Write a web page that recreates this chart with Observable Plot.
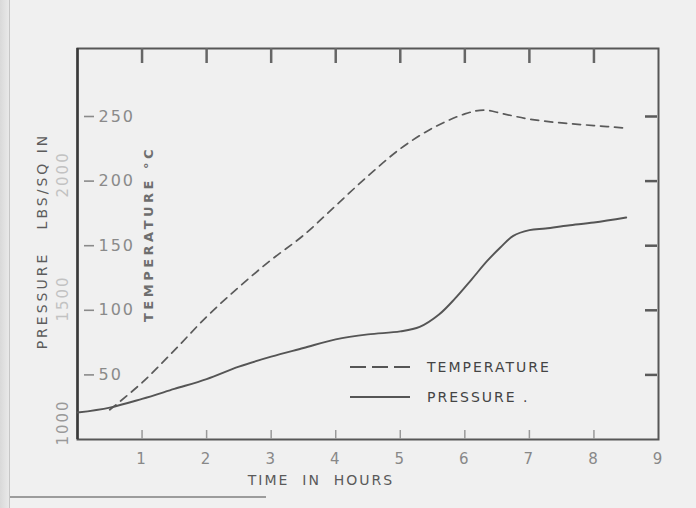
<!DOCTYPE html>
<html><head><meta charset="utf-8">
<script src="https://cdn.jsdelivr.net/npm/d3@7"></script>
<script src="https://cdn.jsdelivr.net/npm/@observablehq/plot@0.6"></script>
<style>
html,body{margin:0;padding:0;background:#efefef;}
#wrap{position:relative;width:696px;height:508px;overflow:hidden;background:#f0f0f0;font-family:"DejaVu Sans",sans-serif;}
#edge{position:absolute;left:0;top:0;width:9px;height:508px;background:linear-gradient(to right,#d9d9d9,#e9e9e9);border-right:1px solid #c6c6c6;}
#rule{position:absolute;left:10px;top:496px;width:256px;height:0;border-top:2px solid #9c9c9c;}
#chart{position:absolute;left:0;top:0;}
#legend{position:absolute;left:345px;top:352px;}
</style></head>
<body>
<div id="wrap"><div id="edge"></div><div id="rule"></div><div id="chart"></div><svg id="legend" width="230" height="60"></svg></div>
<script>
// ---- data ----
const tempHours = [0.5, 1, 1.5, 2, 2.5, 3, 3.5, 4, 4.5, 5, 5.5, 6, 6.3, 6.6, 7, 7.5, 8, 8.5];
const tempC     = [23, 44, 69, 95, 118, 139, 158, 181, 204, 225, 241, 252, 255, 252, 248, 245, 243, 241];
const presHours = [0, 0.5, 1, 1.5, 2, 2.5, 3, 3.5, 4, 4.5, 5, 5.3, 5.6, 5.85, 6.1, 6.35, 6.55, 6.75, 7, 7.25, 7.6, 8, 8.5];
const presPsi   = [1040, 1060, 1095, 1135, 1175, 1225, 1265, 1300, 1335, 1355, 1367, 1385, 1435, 1500, 1575, 1652, 1705, 1752, 1775, 1782, 1794, 1806, 1826];
const hourTicks = [1, 2, 3, 4, 5, 6, 7, 8];
const hourLabels = [1, 2, 3, 4, 5, 6, 7, 8, 9];
const tempTicks = [50, 100, 150, 200, 250];
const pressureTicks = [1000, 1500, 2000];
const seriesNames = ["TEMPERATURE", "PRESSURE ."];

// twin-axis conversion: pressure (psi) expressed on the temperature scale
const P0 = 1000, T_AT_P0 = 13.2, T_PER_PSI = 0.192;
const pToT = p => T_AT_P0 + (p - P0) * T_PER_PSI;

const tempData = tempHours.map((h, i) => ({h, v: tempC[i]}));
const presData = presHours.map((h, i) => ({h, v: pToT(presPsi[i])}));

const W = 696, H = 508, mL = 77, mR = 38, mT = 48, mB = 69;
const iw = W - mL - mR, ih = H - mT - mB;

const chart = Plot.plot({
  width: W, height: H,
  marginLeft: mL, marginRight: mR, marginTop: mT, marginBottom: mB,
  x: {domain: [0, 9], axis: null},
  y: {domain: [0, ih / (64.6 / 50)], axis: null},
  style: {background: "transparent", fontFamily: "DejaVu Sans, sans-serif", overflow: "visible"},
  marks: [
    Plot.frame({stroke: "#575757", strokeWidth: 2}),
    Plot.ruleX([0], {stroke: "#3a3a3a", strokeWidth: 2.5}),
    // top inward ticks
    Plot.ruleX(hourTicks, {x: d => d, insetBottom: ih - 15, stroke: "#666", strokeWidth: 2.5}),
    // bottom inward ticks
    Plot.ruleX(hourTicks, {x: d => d, insetTop: ih - 9, stroke: "#999", strokeWidth: 1.5}),
    // right inward ticks
    Plot.ruleY(tempTicks, {y: d => d, insetLeft: iw - 13, insetRight: 1, stroke: "#5a5a5a", strokeWidth: 2.5}),
    // left temperature tick dashes
    Plot.ruleY(tempTicks, {y: d => d, insetLeft: 7, insetRight: iw - 17, stroke: "#8a8a8a", strokeWidth: 1.6}),
    Plot.text(tempTicks, {y: d => d, frameAnchor: "left", dx: 21, textAnchor: "start", text: d => String(d), fill: "#8a8a8a", fontSize: 16}),
    // x labels
    Plot.text(hourLabels, {x: d => d, frameAnchor: "bottom", dy: 24, text: d => String(d), fill: "#888", fontSize: 15}),
    // pressure labels
    Plot.text(pressureTicks, {y: d => pToT(d), frameAnchor: "left", textAnchor: "middle", dx: -14, rotate: -90, text: d => String(d), fill: d => d === 1000 ? "#999" : "#c2c2c2", fontSize: 15}),
    // axis titles
    Plot.text(["PRESSURE   LBS/SQ IN"], {frameAnchor: "left", textAnchor: "middle", dx: -35, dy: -3, rotate: -90, fill: "#5c5c5c", fontSize: 14}),
    Plot.text(["TEMPERATURE °C"], {frameAnchor: "left", textAnchor: "middle", dx: 71, dy: -10, rotate: -90, fill: "#6e6e6e", fontSize: 13, fontWeight: "bold"}),
    Plot.text(["TIME  IN  HOURS"], {frameAnchor: "bottom", textAnchor: "middle", dx: -47, dy: 45, fill: "#5a5a5a", fontSize: 14}),
    // series
    Plot.line(tempData, {x: "h", y: "v", curve: "catmull-rom", stroke: "#5a5a5a", strokeWidth: 1.7, strokeDasharray: "8,6"}),
    Plot.line(presData, {x: "h", y: "v", curve: "catmull-rom", stroke: "#555", strokeWidth: 1.9})
  ]
});
document.getElementById("chart").appendChild(chart);
d3.select(chart).selectAll("text").attr("letter-spacing", "2px");
d3.select(chart).selectAll("text").filter(function(){return this.textContent.startsWith("PRESSURE");}).attr("letter-spacing", "3px");
d3.select(chart).selectAll("text").filter(function(){return this.textContent.startsWith("TEMPERATURE");}).attr("letter-spacing", "3.5px");

// legend overlay
const lg = d3.select("#legend");
const rows = [{name: seriesNames[0], dash: "16,6", y: 15}, {name: seriesNames[1], dash: null, y: 45}];
rows.forEach(r => {
  lg.append("line").attr("x1", 5).attr("x2", 65).attr("y1", r.y).attr("y2", r.y)
    .attr("stroke", "#555").attr("stroke-width", 2).attr("stroke-dasharray", r.dash);
  lg.append("text").attr("x", 82).attr("y", r.y).attr("dy", "0.36em").text(r.name)
    .attr("fill", "#444").attr("font-size", 14).attr("letter-spacing", "2px")
    .attr("font-family", "DejaVu Sans, sans-serif");
});
</script>
</body></html>
